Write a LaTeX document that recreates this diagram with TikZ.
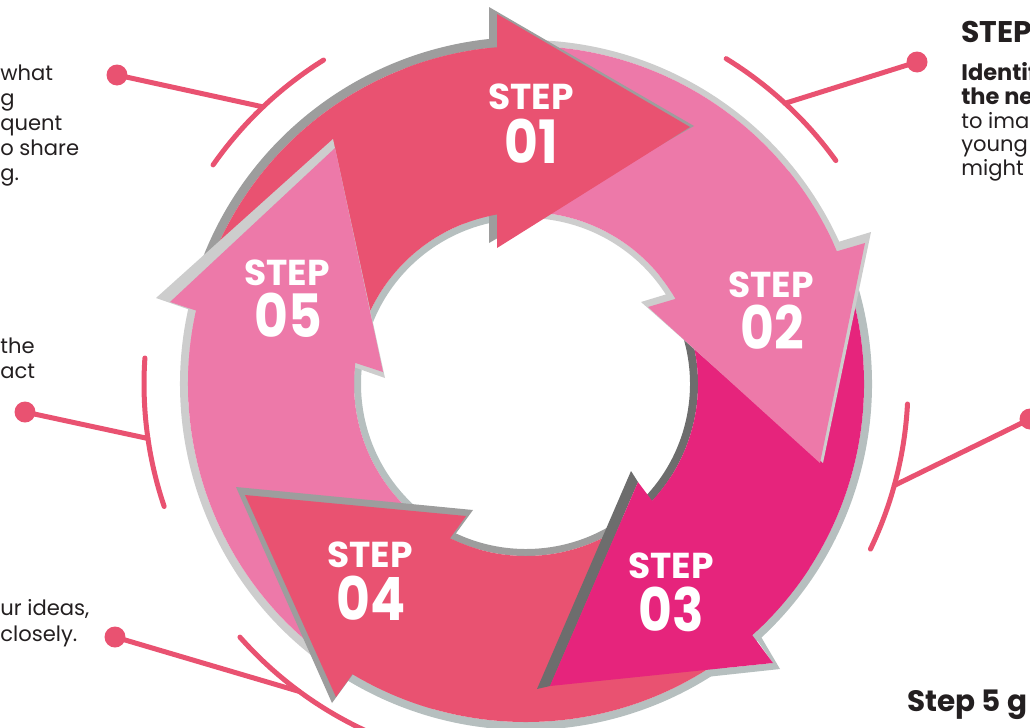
\documentclass[tikz,border=0pt]{standalone}
\usepackage{fontspec}
\setmainfont{Poppins}
\usepackage{graphicx}
\usetikzlibrary{calc}

\definecolor{steprose}{HTML}{E95271}
\definecolor{steppink}{HTML}{ED79A9}
\definecolor{stepmagenta}{HTML}{E6247C}
\definecolor{rimdark}{HTML}{9D9D9D}
\definecolor{rimlight}{HTML}{CDCDCD}
\definecolor{rimblue}{HTML}{B6BFBF}
\definecolor{rimshade}{HTML}{6D6D6D}
\definecolor{inktext}{HTML}{231F20}

% piece of the ring round the hub: from angle, to angle, radius, radius
\newcommand{\ringpart}[4]{([shift={(#1:#3)}]hub) arc[start angle=#1, end angle=#2, radius=#3] -- ([shift={(#2:#4)}]hub) arc[start angle=#2, end angle=#1, radius=#4] -- cycle}

\begin{document}
\begin{tikzpicture}[
    x=0.02cm, y=-0.02cm,
    callout/.style={draw=steprose, line width=2.85pt, line cap=round},
    calloutdot/.style={circle, fill=steprose, inner sep=0, minimum size=0.42cm},
    steptag/.style={text=white, inner sep=0, font=\bfseries\fontsize{20.5}{20.5}\selectfont},
    stepnum/.style={text=white, inner sep=0, font=\bfseries\fontsize{34}{34}\selectfont},
    bodytext/.style={text=inktext, inner sep=0, font=\fontsize{12}{15}\selectfont},
    boldtext/.style={bodytext, font=\bfseries\fontsize{12.8}{15}\selectfont},
    headtext/.style={text=inktext, inner sep=0, font=\bfseries\fontsize{17}{19}\selectfont}
]
\useasboundingbox (0,0) rectangle (1030,727);
\clip (0,0) rectangle (1030,727);
\coordinate (hub) at (526,384);

% rims under the bands
\fill[rimdark] \ringpart{195}{266}{347}{338};
\fill[rimblue] \ringpart{195}{266}{172}{165};
\fill[rimlight] \ringpart{264}{337}{344}{338};
\fill[rimlight] \ringpart{264}{337}{172}{166};
\fill[rimblue] \ringpart{336}{409}{346}{338};
\fill[rimshade] \ringpart{336}{409}{172}{164};
\fill[rimblue] \ringpart{50}{122}{346}{338};
\fill[rimdark] \ringpart{50}{122}{172}{165};
\fill[rimlight] \ringpart{124}{193}{346}{338};
\fill[rimblue] \ringpart{124}{193}{172}{165};

% bands
\fill[steprose] \ringpart{195}{266}{338}{172};
\fill[steppink] \ringpart{264}{337}{338}{172};
\fill[stepmagenta] \ringpart{336}{409}{338}{172};
\fill[steprose] \ringpart{50}{122}{338}{172};
\fill[steppink] \ringpart{124}{193}{338}{172};

% heads
\fill[rimdark] (489,7) -- (694,126) -- (489,243) -- cycle;
\fill[steprose] \ringpart{249}{266}{338}{172};
\fill[steprose] (497,14) -- (690,127) -- (497,248) -- cycle;

\fill[rimlight] (641,302) -- (871,232) -- (823,463) -- cycle;
\fill[steppink] \ringpart{321}{337}{338}{172};
\fill[steppink] (648,307) -- (865,243) -- (820,463) -- cycle;

\fill[rimshade] (631,471) -- (537,689) -- (550,686) -- (638,482) -- cycle;
\fill[rimblue] (752,633) -- (757,630) -- (780,669) -- (706,677) -- (706,670) -- (773,663) -- cycle;
\fill[stepmagenta] \ringpart{393}{409}{338}{172};
\fill[stepmagenta] (638,482) -- (773,663) -- (550,686) -- cycle;

\fill[rimdark] (236,487) -- (473,510) -- (332,703) -- cycle;
\fill[steprose] \ringpart{106}{122}{338}{172};
\fill[steprose] (245,495) -- (466,516) -- (336,697) -- cycle;

\fill[rimlight] (333,139) -- (156,298) -- (385,378) -- cycle;
\fill[steppink] \ringpart{177}{193}{338}{172};
\fill[steppink] (335,148) -- (170,302) -- (383,372) -- cycle;

% step labels
\node[steptag] (tag1) at (531,97) {STEP};
\node[stepnum] (num1) at (531,141) {\scalebox{0.87}[1]{01}};
\node[steptag] (tag2) at (771,285) {STEP};
\node[stepnum] (num2) at (772,327) {\scalebox{0.87}[1]{02}};
\node[steptag] (tag3) at (671,566) {STEP};
\node[stepnum] (num3) at (671,609) {\scalebox{0.87}[1]{03}};
\node[steptag] (tag4) at (370,555) {STEP};
\node[stepnum] (num4) at (371,598) {\scalebox{0.87}[1]{04}};
\node[steptag] (tag5) at (287,273) {STEP};
\node[stepnum] (num5) at (288,315) {\scalebox{0.87}[1]{05}};

% callouts
\node[calloutdot] (dotA) at (117,75) {};
\coordinate (joinA) at ([shift={(226.5:382)}]hub);
\draw[callout] (dotA.center) -- (joinA);
\draw[callout] ([shift={(215:382)}]hub) arc[start angle=215, end angle=238, radius=382];

\node[calloutdot] (dotB) at (917,62) {};
\coordinate (joinB) at ([shift={(312.7:382)}]hub);
\draw[callout] (dotB.center) -- (joinB);
\draw[callout] ([shift={(301.6:382)}]hub) arc[start angle=301.6, end angle=324.2, radius=382];

\node[calloutdot] (dotC) at (25,412) {};
\coordinate (joinC) at ([shift={(171.8:382)}]hub);
\draw[callout] (dotC.center) -- (joinC);
\draw[callout] ([shift={(161.3:382)}]hub) arc[start angle=161.3, end angle=183.9, radius=382];

\node[calloutdot] (dotD) at (1030,419) {};
\coordinate (joinD) at ([shift={(15.4:382)}]hub);
\draw[callout] (dotD.center) -- (joinD);
\draw[callout] ([shift={(3:382)}]hub) arc[start angle=3, end angle=25.6, radius=382];

\node[calloutdot] (dotE) at (115,637) {};
\coordinate (joinE) at ([shift={(126.4:382)}]hub);
\draw[callout] (dotE.center) -- (joinE);
\draw[callout] ([shift={(112:382)}]hub) arc[start angle=112, end angle=138.5, radius=382];

% texts cut by the frame
\node[bodytext, anchor=base west] (leftA1) at (0,80) {what};
\node[bodytext, anchor=base west] (leftA2) at (0,105) {g};
\node[bodytext, anchor=base west] (leftA3) at (0,130) {quent};
\node[bodytext, anchor=base west] (leftA4) at (0,155) {o share};
\node[bodytext, anchor=base west] (leftA5) at (0,180) {g.};
\node[bodytext, anchor=base west] (leftC1) at (0,353) {the};
\node[bodytext, anchor=base west] (leftC2) at (0,378) {act};
\node[bodytext, anchor=base west] (leftE1) at (0,615) {ur ideas,};
\node[bodytext, anchor=base west] (leftE2) at (0,641) {closely.};

\node[headtext, anchor=base west] (rightB0) at (961,42) {STEP};
\node[boldtext, anchor=base west] (rightB1) at (961,80) {Identif};
\node[boldtext, anchor=base west] (rightB2) at (961,104) {the ne};
\node[bodytext, anchor=base west] (rightB3) at (961,128) {to imag};
\node[bodytext, anchor=base west] (rightB4) at (961,151) {young};
\node[bodytext, anchor=base west] (rightB5) at (961,175) {might};

\node[headtext, font=\bfseries\fontsize{16.8}{18}\selectfont, anchor=base west] (stepfive) at (907,711) {Step 5 g};
\end{tikzpicture}
\end{document}
